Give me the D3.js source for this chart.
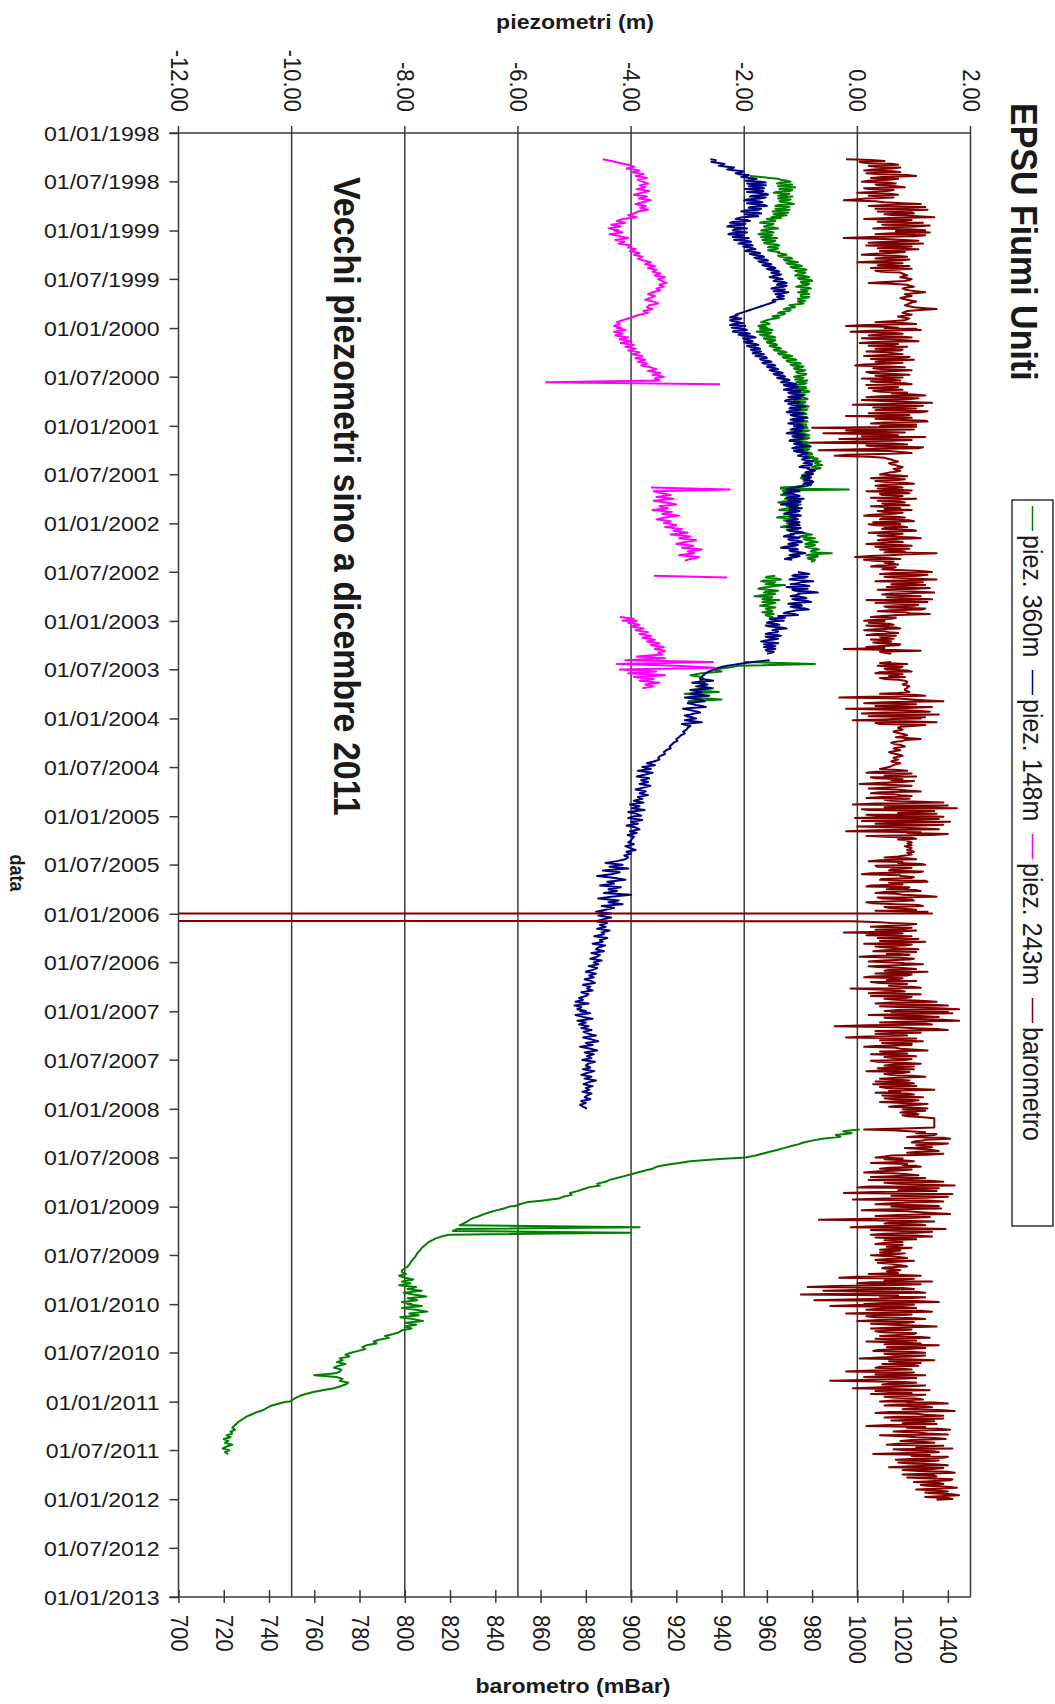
<!DOCTYPE html>
<html>
<head>
<meta charset="utf-8">
<title>EPSU Fiumi Uniti</title>
<script src="https://cdn.jsdelivr.net/npm/d3@7/dist/d3.min.js"></script>
<style>
  html, body { margin: 0; padding: 0; background: #fff; }
  svg { display: block; }
</style>
</head>
<body>
<svg id="chart" width="1055" height="1704"></svg>
<script>
// ---------------------------------------------------------------------------
// Axis ticks
// ---------------------------------------------------------------------------
const dateTickLabels = [
  "01/01/1998","01/07/1998","01/01/1999","01/07/1999","01/01/2000","01/07/2000",
  "01/01/2001","01/07/2001","01/01/2002","01/07/2002","01/01/2003","01/07/2003",
  "01/01/2004","01/07/2004","01/01/2005","01/07/2005","01/01/2006","01/07/2006",
  "01/01/2007","01/07/2007","01/01/2008","01/07/2008","01/01/2009","01/07/2009",
  "01/01/2010","01/07/2010","01/01/2011","01/07/2011","01/01/2012","01/07/2012",
  "01/01/2013"
];
const piezoTicks = [-12, -10, -8, -6, -4, -2, 0, 2];          // m
const baroTicks  = [700, 720, 740, 760, 780, 800, 820, 840, 860, 880,
                    900, 920, 940, 960, 980, 1000, 1020, 1040]; // mBar
const piezoDomain = [-12, 2];
const baroDomain  = [700, 1050];

// ---------------------------------------------------------------------------
// Readings. Each block: first reading date, weekly readings, and optionally
// the readings taken half a week after each weekly one. null = no reading.
// ---------------------------------------------------------------------------

// piez. 360m (m)
const p360_1998 = [-1.90,-1.55,-1.35,-1.18,-1.42,-1.25,-1.10,-1.38,-1.20,-1.48,-1.28,-1.15,-1.40,-1.22,-1.32,-1.12,-1.45,-1.30,-1.20,-1.50,-1.35,-1.25,-1.52,-1.60,-1.45,-1.72,-1.50,-1.65,-1.40];
const p360_1998m = [-1.70,-1.40,-1.25,-1.35,-1.15,-1.40,-1.28,-1.15,-1.42,-1.20,-1.40,-1.32,-1.18,-1.38,-1.18,-1.40,-1.20,-1.45,-1.38,-1.22,-1.48,-1.40,-1.35,-1.50,-1.65,-1.48,-1.60,-1.48,-1.62];
const p360_1999 = [-1.70,-1.48,-1.75,-1.55,-1.42,-1.68,-1.50,-1.62,-1.38,-1.58,-1.45,-1.52,-1.40,-1.25,-1.35,-1.15,-1.28,-1.05,-1.20,-0.98,-1.12,-0.90,-1.05,-0.95,-1.10,-0.85,-1.02,-0.80,-0.98,-0.88,-1.08,-0.82,-0.95,-1.05,-0.85,-1.00,-0.90,-1.02,-1.05,-0.95,-1.20,-1.10,-1.30,-1.22,-1.40,-1.32,-1.50,-1.45,-1.60,-1.70,-1.55,-1.75,-1.60];
const p360_1999m = [-1.55,-1.68,-1.50,-1.70,-1.60,-1.45,-1.65,-1.42,-1.55,-1.40,-1.58,-1.38,-1.30,-1.40,-1.18,-1.30,-1.12,-1.25,-1.02,-1.18,-0.95,-1.10,-0.92,-1.05,-0.90,-1.05,-0.82,-1.00,-0.85,-1.02,-0.88,-1.00,-0.88,-0.92,-1.00,-0.85,-1.05,-0.92,-1.00,-1.10,-1.15,-1.25,-1.18,-1.35,-1.28,-1.45,-1.38,-1.55,-1.65,-1.58,-1.68,-1.62,-1.72];
const p360_2000 = [-1.72,-1.50,-1.78,-1.55,-1.68,-1.45,-1.62,-1.48,-1.58,-1.42,-1.50,-1.35,-1.45,-1.25,-1.38,-1.15,-1.30,-1.08,-1.22,-1.00,-1.15,-0.98,-1.10,-0.96,-1.05,-0.92,-1.12,-0.98,-0.88,-1.08,-0.95,-1.15,-0.90,-1.02,-0.85,-1.10,-0.96,-1.05,-0.88,-1.12,-0.94,-1.00,-0.86,-1.08,-0.92,-1.04,-0.90,-1.10,-0.95,-0.98,-0.88,-1.06,-0.92];
const p360_2000m = [-1.58,-1.70,-1.52,-1.72,-1.50,-1.65,-1.45,-1.60,-1.45,-1.55,-1.38,-1.48,-1.30,-1.40,-1.22,-1.32,-1.12,-1.25,-1.05,-1.18,-0.95,-1.12,-0.92,-1.08,-0.90,-1.05,-0.95,-1.10,-0.95,-0.90,-1.10,-0.92,-1.08,-0.88,-1.05,-0.92,-1.08,-0.90,-1.05,-0.92,-1.08,-0.90,-1.04,-0.88,-1.10,-0.92,-1.06,-0.90,-1.05,-0.92,-1.08,-0.90,-1.00];
const p360_2001 = [-0.98,-0.88,-1.05,-0.92,-1.10,-0.85,-1.00,-0.90,-1.08,-0.86,-0.95,-0.82,-1.02,-0.88,-0.92,-0.80,-0.90,-0.84,-0.72,-0.65,-0.75,-0.62,-0.80,-0.68,-0.78,-0.90,-0.95,-0.85,-1.00,-0.88,-0.92,-0.82,-0.98,-1.35,-0.15,-1.30,-1.20,-1.35,-1.05,-1.28,-1.12,-1.40,-1.00,-1.25,-1.15,-1.38,-1.08,-1.30,-1.18,-1.42,-1.05,-1.22,-1.10];
const p360_2001m = [-0.90,-1.02,-0.85,-1.05,-0.90,-1.02,-0.85,-1.05,-0.92,-1.00,-0.85,-0.98,-0.85,-1.00,-0.82,-0.92,-0.78,-0.70,-0.80,-0.70,-0.68,-0.75,-0.65,-0.82,-0.85,-0.80,-0.98,-0.90,-0.85,-0.95,-0.80,-0.95,-1.10,-1.35,-1.32,-1.15,-1.30,-1.10,-1.25,-1.05,-1.32,-1.15,-1.20,-1.05,-1.30,-1.12,-1.25,-1.05,-1.30,-1.15,-1.30,-1.05,-1.20];
const p360_2002 = [-1.25,-1.10,-1.35,-1.05,-1.18,-0.95,-0.80,-1.02,-0.75,-0.88,-0.70,-0.92,-0.78,-0.85,-0.68,-0.82,-0.45,-0.90,-0.72,-0.86,-0.76,null,null,null,null,null,null,null,-1.45,-1.62,-1.35,-1.70,-1.50,-1.28,-1.58,-1.75,-1.40,-1.65,-1.48,-1.82,-1.55,-1.38,-1.68,-1.52,-1.72,-1.45,-1.60,-1.50,-1.55,-1.62,-1.50,null,null];
const p360_2002m = [-1.15,-1.30,-1.12,-1.25,-1.05,-0.88,-0.95,-0.85,-0.95,-0.78,-0.85,-0.75,-0.92,-0.72,-0.80,-0.72,-0.80,-0.70,-0.88,-0.75,-0.82,null,null,null,null,null,null,null,-1.60,-1.42,-1.65,-1.45,-1.62,-1.45,-1.70,-1.55,-1.60,-1.45,-1.72,-1.50,-1.68,-1.55,-1.45,-1.62,-1.55,-1.62,-1.52,-1.68,-1.48,-1.58,-1.55,null,null];
const p360_2003 = [-2.00,-0.75,-2.10,-2.30,-2.55,-2.40,-2.75,-2.95,-2.75,-2.72,-2.78,-2.70,-2.74,-2.80,-2.55,-2.95,-2.45,-3.05,-2.70,-2.90,-2.40,-3.00];
const p360_2008 = [0.04,-0.25,-0.10,-0.38,-0.30,-0.62,-0.80,-0.95,-1.05,-1.18,-1.30,-1.42,-1.55,-1.68,-1.80,-1.98,-2.50,-2.95,-3.15,-3.40,-3.55,-3.62,-3.75,-3.88,-4.00,-4.12,-4.25,-4.38,-4.45,-4.60,-4.55,-4.75,-4.85,-4.95,-5.08,-5.05,-5.20,-5.28,-5.55,-5.85,-5.97,-6.05];
const p360_2009 = [-6.15,-6.25,-6.38,-6.50,-6.60,-6.68,-6.78,-6.85,-6.90,-6.96,-7.03,-3.85,-7.08,-7.15,-4.00,-7.22,-7.35,-7.45,-7.52,-7.58,-7.62,-7.66,-7.70,-7.72,-7.75,-7.78,-7.80,-7.82,-7.85,-7.88,-7.90,-7.92,-7.95,-8.00,-8.05,-8.05,-7.98,-8.10,-8.00,-7.85,-8.05,-7.90,-8.10,-7.80,-7.95,-7.70,-8.02,-7.85,-7.62,-7.95,-7.78,-8.05,-7.88];
const p360_2010 = [-7.95,-7.70,-8.05,-7.80,-7.60,-7.92,-7.75,-8.08,-7.85,-7.68,-7.98,-7.80,-8.00,-7.88,-8.05,-8.10,-8.20,-8.35,-8.28,-8.45,-8.55,-8.50,-8.68,-8.75,-8.70,-8.82,-8.95,-9.05,-8.98,-9.15,-9.10,-9.20,-9.05,-9.18,-9.25,-9.12,-9.15,-9.22,-9.60,-9.20,-9.10,-9.15,-9.00,-9.05,-9.15,-9.25,-9.45,-9.62,-9.75,-9.85,-9.92,-9.98,-10.03];
const p360_2011 = [-10.10,-10.22,-10.35,-10.42,-10.47,-10.55,-10.65,-10.72,-10.80,-10.85,-10.90,-10.95,-10.98,-11.02,-11.05,-11.00,-11.08,-11.05,-11.15,-11.08,-11.20,-11.12,-11.18,-11.05,-11.15,-11.22,-11.10,-11.18,-11.12];

// piez. 148m (m)
const p148_1998 = [-2.60,-2.52,-2.45,-2.38,-2.30,-2.22,-2.15,-2.05,-2.10,-1.95,-1.90,-1.85,-1.70,-1.95,-1.62,-1.80,-1.98,-1.66,-1.78,-1.58,-1.90,-1.72,-2.00,-1.68,-1.84,-1.60,-1.92,-1.75,-2.05,-1.70,-1.88,-2.02,-2.15,-1.90,-2.25,-2.00,-2.30,-1.95];
const p148_1998m = [-2.50,-2.58,-2.35,-2.45,-2.18,-2.30,-2.02,-2.15,-1.92,-2.05,-1.78,-1.98,-1.62,-1.85,-1.92,-1.65,-1.80,-1.95,-1.62,-1.85,-1.62,-1.95,-1.75,-1.95,-1.65,-1.88,-1.70,-2.00,-1.78,-1.98,-1.75,-2.10,-1.95,-2.20,-1.98,-2.25,-2.05,-2.18];
const p148_1999 = [-2.20,-1.95,-2.28,-2.05,-1.92,-2.18,-1.88,-2.10,-1.85,-1.95,-1.80,-1.98,-1.72,-1.85,-1.65,-1.78,-1.58,-1.70,-1.52,-1.62,-1.45,-1.55,-1.38,-1.48,-1.40,-1.55,-1.32,-1.48,-1.25,-1.42,-1.30,-1.52,-1.35,-1.22,-1.45,-1.30,-1.38,-1.48,-1.45,-1.55,-1.65,-1.75,-1.85,-1.95,-2.05,-2.15,-2.20,-2.05,-2.25,-2.10,-2.18,-1.98,-2.22];
const p148_1999m = [-2.05,-2.22,-2.00,-2.20,-2.10,-1.95,-2.05,-1.90,-2.02,-1.85,-1.95,-1.82,-1.90,-1.70,-1.82,-1.62,-1.75,-1.60,-1.68,-1.50,-1.60,-1.42,-1.52,-1.35,-1.50,-1.38,-1.45,-1.30,-1.40,-1.25,-1.45,-1.28,-1.48,-1.32,-1.38,-1.42,-1.30,-1.50,-1.50,-1.60,-1.70,-1.80,-1.90,-2.00,-2.10,-2.12,-2.25,-2.08,-2.20,-2.02,-2.25,-2.10,-2.05];
const p148_2000 = [-2.15,-1.95,-2.20,-1.90,-2.05,-1.80,-2.00,-1.85,-1.95,-1.75,-1.90,-1.72,-1.85,-1.78,-1.65,-1.80,-1.60,-1.70,-1.52,-1.65,-1.45,-1.58,-1.40,-1.50,-1.32,-1.45,-1.28,-1.38,-1.20,-1.35,-1.08,-1.25,-1.12,-1.30,-1.02,-1.18,-0.95,-1.22,-1.10,-1.28,-1.05,-1.15,-0.92,-1.20,-1.08,-1.25,-1.00,-1.12,-0.88,-1.18,-1.05,-1.22,-0.98];
const p148_2000m = [-2.00,-2.18,-1.98,-2.10,-1.85,-2.02,-1.90,-2.00,-1.80,-1.95,-1.78,-1.88,-1.70,-1.85,-1.75,-1.62,-1.72,-1.58,-1.68,-1.50,-1.60,-1.45,-1.55,-1.38,-1.48,-1.30,-1.42,-1.22,-1.32,-1.15,-1.30,-1.05,-1.25,-1.00,-1.22,-1.05,-1.15,-1.00,-1.25,-1.02,-1.22,-1.02,-1.18,-1.00,-1.20,-0.95,-1.18,-1.02,-1.12,-0.95,-1.15,-1.02,-1.12];
const p148_2001 = [-1.10,-0.95,-1.18,-1.02,-1.25,-0.92,-1.12,-1.00,-1.20,-0.98,-1.08,-0.85,-1.15,-0.95,-1.05,-0.92,-1.05,-0.85,-0.98,-0.78,-0.95,-0.82,-1.02,-0.88,-0.75,-0.92,-0.80,-0.98,-0.85,-0.90,-0.78,-0.95,-0.88,-1.10,-1.25,-1.02,-1.30,-1.08,-1.18,-0.95,-1.22,-1.05,-1.35,-1.12,-0.98,-1.20,-1.08,-1.28,-1.00,-1.15,-1.05,-1.25,-1.10];
const p148_2001m = [-1.00,-1.12,-0.98,-1.20,-1.00,-1.15,-0.95,-1.18,-1.02,-1.12,-0.92,-1.10,-1.00,-1.12,-0.88,-1.00,-0.90,-0.95,-0.85,-0.92,-0.80,-0.98,-0.85,-0.80,-0.88,-0.78,-0.92,-0.82,-0.95,-0.80,-0.90,-0.82,-1.00,-1.18,-1.05,-1.22,-1.12,-1.02,-1.25,-1.10,-1.00,-1.28,-1.05,-1.20,-1.10,-1.02,-1.22,-1.05,-1.20,-1.08,-1.18,-1.02,-1.20];
const p148_2002 = [-1.15,-1.02,-1.25,-1.08,-1.20,-0.95,-1.12,-1.30,-1.05,-1.18,-0.98,-1.22,-1.10,-1.35,-1.05,-1.15,-0.92,-1.20,-1.08,-1.28,null,null,null,null,null,null,-1.05,-0.85,-1.15,-0.92,-1.20,-0.78,-1.05,-0.95,-1.25,-0.88,-1.10,-0.70,-1.02,-1.18,-0.90,-1.08,-0.82,-1.22,-0.98,-1.12,-0.86,-1.15,-1.30,-1.05,-1.35,-1.55,-1.30];
const p148_2002m = [-1.05,-1.20,-1.00,-1.22,-1.05,-1.18,-1.25,-1.02,-1.22,-1.00,-1.15,-1.05,-1.28,-1.08,-1.20,-0.98,-1.12,-1.02,-1.22,-1.15,null,null,null,null,null,null,-0.95,-1.10,-0.88,-1.12,-0.95,-1.00,-1.18,-0.85,-1.08,-1.15,-0.80,-1.05,-1.12,-0.95,-1.15,-0.88,-1.10,-1.00,-1.18,-0.92,-1.08,-1.25,-1.12,-1.40,-1.28,-1.45,-1.48];
const p148_2003 = [-1.45,-1.60,-1.38,-1.55,-1.25,-1.50,-1.42,-1.62,-1.35,-1.55,-1.48,-1.70,-1.40,-1.58,-1.65,-1.45,-1.60,-1.52,null,null,null,-1.55,-1.85,-2.10,-2.30,-2.45,-2.55,-2.62,-2.68,-2.72,-2.75,-2.78,-2.55,-2.92,-2.65,-2.85,-2.58,-2.95,-2.75,-2.95,-2.62,-3.05,-2.80,-2.70,-3.00,-2.85,-2.68,-3.08,-2.90,-2.78,-2.95,-3.02,-2.88];
const p148_2003m = [-1.55,-1.45,-1.62,-1.35,-1.45,-1.40,-1.55,-1.42,-1.62,-1.40,-1.62,-1.50,-1.65,-1.45,-1.55,-1.62,-1.48,-1.60,null,null,null,-1.70,-1.98,-2.20,-2.38,-2.50,-2.58,-2.65,-2.70,-2.74,-2.76,-2.65,-2.80,-2.75,-2.75,-2.70,-2.80,-2.85,-2.85,-2.78,-2.88,-2.92,-2.72,-2.88,-2.92,-2.75,-2.95,-2.98,-2.82,-2.88,-3.05,-2.92,-2.95];
const p148_2004 = [-2.85,-3.05,-2.75,-3.10,-2.95,-3.00,-3.02,-3.08,-3.05,-3.12,-3.15,-3.20,-3.18,-3.25,-3.28,-3.32,-3.30,-3.38,-3.42,-3.40,-3.48,-3.52,-3.50,-3.60,-3.72,-3.58,-3.80,-3.65,-3.88,-3.62,-3.75,-3.90,-3.68,-3.82,-3.70,-3.85,-3.66,-3.78,-3.92,-3.74,-3.85,-3.70,-3.88,-3.80,-3.95,-3.78,-4.02,-3.85,-3.98,-3.76,-4.05,-3.90,-3.82];
const p148_2005 = [-3.95,-4.05,-3.80,-4.00,-3.88,-4.08,-3.92,-3.85,-4.02,-3.90,-4.06,-3.95,-3.98,-4.00,-4.05,-3.95,-4.10,-4.02,-3.92,-4.08,-4.00,-4.12,-4.05,-4.10,-4.25,-4.45,-4.15,-4.38,-4.05,-4.50,-4.20,-4.35,-4.60,-4.28,-4.10,-4.42,-4.30,-4.55,-4.18,-4.40,-4.25,-4.48,-4.00,-4.35,-4.58,-4.22,-4.40,-4.15,-4.52,-4.30,-4.45,-4.62,-4.35];
const p148_2006 = [-4.40,-4.58,-4.35,-4.50,-4.62,-4.42,-4.55,-4.45,-4.60,-4.38,-4.52,-4.48,-4.65,-4.42,-4.55,-4.50,-4.68,-4.46,-4.58,-4.62,-4.48,-4.70,-4.55,-4.60,-4.72,-4.52,-4.66,-4.58,-4.75,-4.60,-4.68,-4.80,-4.62,-4.74,-4.66,-4.82,-4.70,-4.64,-4.85,-4.72,-4.78,-4.68,-4.88,-4.75,-4.80,-4.92,-4.85,-4.98,-4.75,-5.00,-4.88,-4.95,-4.80];
const p148_2007 = [-4.90,-4.72,-4.98,-4.85,-4.68,-4.95,-4.80,-4.92,-4.75,-4.88,-4.70,-4.84,-4.75,-4.62,-4.85,-4.70,-4.58,-4.80,-4.68,-4.90,-4.72,-4.60,-4.82,-4.66,-4.78,-4.70,-4.86,-4.64,-4.76,-4.80,-4.72,-4.85,-4.65,-4.78,-4.88,-4.70,-4.82,-4.62,-4.76,-4.84,-4.68,-4.80,-4.74,-4.86,-4.70,-4.78,-4.82,-4.72,-4.88,-4.80,-4.90,-4.85,-4.78];

// piez. 243m (m)
const p243_1998 = [-4.50,-4.35,-4.20,-4.05,-3.95,-4.08,-3.85,-3.98,-3.78,-3.92,-3.72,-3.88,-3.80,-3.70,-3.85,-3.75,-3.90,-3.68,-3.82,-3.95,-3.72,-3.86,-3.65,-3.80,-3.92,-3.74,-3.84,-3.70,-3.88,-3.95,-4.05,-3.90,-4.15,-4.25,-4.10,-4.35,-4.18,-4.40,-4.22];
const p243_1999 = [-4.30,-4.15,-4.38,-4.20,-4.05,-4.28,-4.12,-4.22,-4.00,-4.05,-3.92,-4.02,-3.85,-3.95,-3.80,-3.88,-3.78,-3.65,-3.75,-3.58,-3.70,-3.55,-3.62,-3.48,-3.58,-3.40,-3.52,-3.45,-3.38,-3.50,-3.42,-3.55,-3.48,-3.62,-3.70,-3.58,-3.66,-3.75,-3.60,-3.52,-3.68,-3.72,-3.62,-3.78,-3.70,-3.85,-3.95,-4.05,-4.15,-4.25,-4.20,-4.30,-4.18];
const p243_2000 = [-4.25,-4.10,-4.30,-4.15,-4.28,-4.05,-4.20,-4.00,-4.18,-3.95,-4.10,-3.92,-4.05,-3.85,-3.98,-3.80,-3.92,-3.75,-3.88,-3.72,-3.82,-3.65,-3.55,-3.70,-3.48,-3.62,-3.42,-3.58,-3.50,-5.50,-2.43];
const p243_2001 = [-3.65,-2.25,-3.60,-3.45,-3.30,-3.55,-3.25,-3.60,-3.38,-3.20,-3.50,-3.35,-3.62,-3.28,-3.45,-3.15,-3.40,-3.55,-3.30,-3.42];
const p243_2002 = [-3.35,-3.20,-3.40,-3.10,-3.25,-3.00,-3.30,-2.95,-3.15,-2.85,-3.05,-3.20,-2.90,-3.10,-2.75,-3.00,-2.88,-3.15,-2.80,-2.95,-3.05,null,null,null,null,null,null,null,-3.60,-2.30];
const p243_2002b = [-4.20,-3.95,-4.15];
const p243_2003 = [-3.90,-4.05,-3.85,-4.00,-3.78,-3.92,-3.70,-3.85,-3.65,-3.80,-3.58,-3.72,-3.50,-3.65,-3.42,-3.58,-3.40,-3.52,-3.45,-3.90,-3.40,-4.10,-2.55,-4.25,-3.20,-2.50,-4.20,-3.55,-4.05,-3.40,-3.95,-3.60,-3.85,-3.50,-3.75,-3.60,-3.80];

// barometro (mBar); the zeros in January 2006 are a logger dropout
const baro1998 = [995,1012,1004,1018,1008,1015,1003,1019,1010,1026,1006,1014,1002,1017,1009,1021,1005,1013,1000,1018,1011,1004,994,1012,1028,1005,1022,1031,1009,1025,1016,1034,1003,1020,1029,1011,1026,1007,1030];
const baro1998m = [1006,1001,1015,1005,1019,1007,1016,1004,1022,1011,1018,1005,1013,1008,1017,1003,1016,1007,1014,1005,1016,999,1008,1020,1013,1030,1008,1019,1024,1012,1027,1014,1024,1009,1018,1032,1013,1023,1017];
const baro1999 = [1018,1032,1008,1025,994,1021,1013,1029,1004,1019,1027,1010,1015,1002,1022,1008,1019,1000,1014,1023,1006,1017,1011,1020,1022,1019,1024,1021,1005,1022,1025,1020,1023,1030,1021,1024,1019,1022,1026,1023,1021,1025,1035,1022,1020,1024,1018,1023,1021,1008,1026,995,1018];
const baro1999m = [1024,1015,1030,1006,1012,1027,1005,1018,1024,1009,1016,1021,1006,1017,1012,1023,1007,1020,1009,1016,1024,1008,1019,1021,1020,1022,1023,1012,1015,1023,1022,1021,1026,1025,1022,1021,1020,1024,1024,1022,1023,1030,1028,1021,1022,1021,1020,1022,1015,1020,1004,1012,1026];
const baro2000 = [1012,1028,997,1020,1005,1024,1010,1027,1001,1016,1022,1008,1019,1012,1020,1003,1018,1025,1008,1015,999,1021,1011,1017,1006,1023,1013,1002,1019,1009,1024,1014,1005,1020,1010,1015,1030,1004,1022,1011,1033,998,1019,1026,1008,1028,1013,995,1024,1017,1031,1006,1021];
const baro2000m = [1022,1006,1016,1010,1019,1002,1021,1008,1018,1005,1013,1020,1004,1016,1009,1023,1006,1011,1020,1003,1014,1007,1024,1004,1016,1008,1020,1015,1006,1021,1004,1018,1012,1007,1022,1025,1010,1027,1002,1024,1016,1029,1007,1013,1031,1005,1023,1019,1008,1030,1012,1026,1010];
const baro2001 = [1012,980,1025,1003,985,1018,1030,992,1015,979,1022,1008,1027,983,1019,1010,990,1012,1015,1018,1014,1017,1020,1016,1019,1014,1010,1022,1006,1018,1013,1025,1008,1020,1015,1004,1023,1011,1017,1026,1009,1021,1014,1006,1019,1024,1012,1016,1003,1021,1010,1025,1013];
const baro2001m = [1026,1008,995,1021,1010,1002,1012,1024,998,1016,1004,1029,1000,1014,1024,996,1005,1013,1016,1017,1015,1018,1019,1017,1017,1012,1018,1013,1021,1008,1022,1012,1017,1009,1024,1016,1010,1020,1006,1013,1019,1011,1023,1016,1012,1009,1020,1006,1015,1011,1023,1007,1019];
const baro2002 = [1015,1008,1022,1011,1026,1005,1018,1013,1028,1009,1020,1004,1024,1016,1010,1021,1035,1014,999,1019,1007,1012,1018,1006,1015,1020,1033,1010,1027,1016,1035,1008,1024,1030,1013,1026,1019,1034,1011,1028,1021,1004,1031,1017,1025,1014,1029,1009,1023,1018,1006,1015,1003];
const baro2002m = [1005,1019,1012,1024,1014,1020,1009,1025,1012,1017,1011,1019,1008,1023,1017,1012,1022,1006,1013,1003,1016,1014,1009,1017,1011,1028,1016,1031,1012,1024,1018,1029,1015,1020,1032,1009,1027,1015,1022,1013,1033,1016,1008,1027,1012,1030,1015,1021,1032,1011,1017,1008,1012];
const baro2003 = [1012,1005,1016,1009,1019,1003,1014,1008,1017,1011,1006,1015,1010,1018,1004,994,1028,1012,null,null,null,null,1015,1022,1009,1019,1013,1024,1008,1017,1021,1012,1021,1022,1020,1023,1022,1021,1023,1010,1030,992,1024,1038,1003,1018,1033,995,1026,1012,1036,1005,1021];
const baro2003m = [1007,1014,1004,1017,1008,1012,1018,1004,1010,1016,1013,1007,1019,1009,1012,1016,1010,1015,null,null,null,null,1010,1016,1020,1012,1022,1010,1020,1014,1010,1018,1022,1021,1022,1022,1021,1022,1018,1025,1005,1018,1031,1012,1026,1008,1022,1014,1032,1002,1020,1030,1016];
const baro2004 = [1028,998,1035,1010,1024,1018,1020,1016,1019,1022,1017,1028,1020,1015,1018,1021,1016,1019,1014,1017,1020,1016,1018,1015,1019,1016,1014,1010,1022,1004,1018,1026,1008,1015,1020,1001,1024,1012,1017,1028,1006,1019,1011,1023,1015,1038,998,1030,1044,1005,1026,1035,1010];
const baro2004m = [1012,1022,1008,1030,1019,1019,1018,1017,1021,1020,1022,1021,1017,1016,1020,1018,1017,1016,1015,1019,1018,1017,1016,1017,1017,1015,1012,1018,1008,1024,1012,1006,1020,1025,1009,1013,1018,1005,1022,1010,1016,1024,1004,1012,1028,1008,1040,1012,1002,1034,1018,1004,1038];
const baro2005 = [1032,999,1024,1041,1008,1028,1016,1036,995,1022,1033,1012,1026,1022,1024,1023,1021,1024,1022,1025,1023,1021,1012,1026,1005,1018,1030,1009,1021,1014,1027,1002,1019,1024,1010,1031,1016,1006,1023,1013,1028,1008,1020,1035,1011,1025,1004,1017,1029,1014,1026,1031,1033];
const baro2005m = [1010,1036,1002,1018,1038,1000,1030,1008,1028,1040,1004,1024,1018,1023,1022,1024,1022,1023,1024,1022,1024,1018,1022,1010,1020,1028,1008,1024,1015,1029,1006,1019,1025,1011,1030,1014,1020,1004,1022,1026,1012,1017,1030,1009,1024,1016,1007,1027,1012,1021,1008,1024,0];
const baro2006 = [0,0,0,0,998,1015,1022,1006,1019,1026,994,1012,1024,1009,1017,1030,1003,1021,1013,1027,1007,1018,1023,1001,1025,1011,1016,1029,1005,1020,1014,1031,1008,1022,1003,1018,1026,1010,1015,1024,997,1019,1012,1028,1006,1021,1017,1035,1008,1040,1020,1045,1012];
const baro2006m = [0,0,0,0,1010,1026,1012,1024,1008,1018,1020,1004,1016,1027,1010,1020,1024,1008,1018,1012,1026,1013,1008,1019,1023,1005,1021,1017,1009,1026,1012,1018,1024,1006,1020,1013,1006,1022,1014,1028,1009,1021,1005,1016,1024,1012,1028,1015,1030,1010,1036,1018,1040];
const baro2007 = [1030,1042,1005,1036,1018,1045,1010,1033,990,1025,1040,1015,1008,1022,995,1017,1029,1011,1024,1003,1019,1031,1014,1006,1026,1016,1021,1009,1028,1012,1018,1025,1004,1020,1015,1030,1010,1023,1017,1007,1026,1013,1034,1019,1022,1011,1029,1016,1024,1020,1027,1014,1031];
const baro2007m = [1015,1020,1028,1012,1038,1022,1030,1004,1018,1035,1008,1028,1020,1004,1026,1010,1018,1024,1008,1017,1026,1010,1022,1019,1012,1024,1006,1020,1016,1025,1009,1014,1023,1012,1024,1018,1016,1008,1025,1021,1010,1026,1014,1008,1025,1020,1012,1027,1010,1031,1018,1024,1020];
const baro2008 = [1024,1030,1019,1027,1022,1034,1034,1034,1034,1034,1034,1003,1023,1026,1034,1022,1041,1029,1024,1036,1030,1021,1033,1027,1038,1015,1008,1012,1025,1006,1020,1028,1010,1018,1003,1022,1015,1030,1005,1038,1018,1043,1000,1027,1035,994,1022,1040,1012,1031,1025,1008,1036];
const baro2008m = [1028,1022,1026,1020,1029,1034,1034,1034,1034,1034,1020,1015,1030,1035,1028,1038,1030,1025,1040,1026,1033,1028,1036,1022,1031,1012,1020,1020,1015,1022,1026,1014,1024,1008,1016,1027,1006,1022,1032,1012,1028,1005,1036,1018,1008,1042,1015,1030,998,1038,1015,1028,1020];
const baro2009 = [1015,1037,1002,1028,1041,1008,1025,983,1034,1012,1030,997,1039,1020,1026,1006,1033,1018,1012,1020,1008,1017,1024,1010,1015,1021,1006,1018,1013,1025,1009,1016,1022,1011,1019,1014,1005,1028,992,1020,1033,1000,1015,978,1025,985,1030,975,1010,1022,981,1036,1003];
const baro2009m = [1030,1010,1022,1035,1018,1032,1005,1020,1015,1028,1008,1025,1006,1033,1012,1025,1008,1026,1018,1012,1020,1013,1016,1019,1010,1017,1014,1022,1008,1018,1015,1020,1012,1016,1013,1018,1020,1000,1025,1012,1006,1028,990,1020,1003,1026,1002,1018,1030,1000,1026,1012,1025];
const baro2010 = [1012,988,1026,1004,1033,995,1018,1008,1030,1000,1022,1015,1035,1006,1020,1011,1025,1010,1032,1018,1004,1028,1036,1013,1022,1007,1030,1016,1024,1001,1034,1019,1011,1027,1008,1024,995,1018,1030,1003,1015,988,1026,1011,1020,998,1032,1014,1006,1023,1017,1029,1010];
const baro2010m = [1000,1020,1010,1028,1012,1024,1004,1026,1010,1025,1006,1028,1018,1024,1008,1026,1018,1028,1008,1026,1020,1012,1020,1030,1009,1024,1012,1030,1010,1022,1014,1028,1024,1010,1020,1006,1025,1008,1012,1026,1002,1018,1014,1030,1008,1020,1008,1024,1030,1012,1026,1016,1022];
const baro2011 = [1025,1040,1012,1033,1020,1043,1008,1030,1018,1038,1015,1027,1035,1004,1022,1041,1016,1031,1010,1026,1039,1019,1034,1013,1028,1042,1021,1036,1007,1024,1038,1017,1030,1023,1040,1014,1033,1027,1043,1020,1035,1029,1041,1025,1038,1031,1044,1026,1040,1033,1045,1030,1042];
const baro2011m = [1034,1018,1030,1024,1036,1014,1026,1038,1012,1028,1034,1020,1014,1030,1036,1022,1026,1040,1020,1036,1024,1030,1018,1038,1026,1016,1034,1022,1032,1040,1026,1036,1018,1034,1024,1038,1020,1040,1030,1034,1022,1042,1032,1036,1028,1040,1034,1036,1030,1042,1036,1040,1035];

// Block start dates
const p360Blocks = [
  ["1998-06-11", p360_1998, p360_1998m], ["1999-01-01", p360_1999, p360_1999m],
  ["2000-01-01", p360_2000, p360_2000m], ["2001-01-01", p360_2001, p360_2001m],
  ["2002-01-01", p360_2002, p360_2002m], ["2003-06-04", p360_2003],
  ["2008-03-18", p360_2008], ["2009-01-01", p360_2009], ["2010-01-01", p360_2010],
  ["2011-01-01", p360_2011]
];
const p148Blocks = [
  ["1998-04-09", p148_1998, p148_1998m], ["1999-01-01", p148_1999, p148_1999m],
  ["2000-01-01", p148_2000, p148_2000m], ["2001-01-01", p148_2001, p148_2001m],
  ["2002-01-01", p148_2002, p148_2002m], ["2003-01-01", p148_2003, p148_2003m],
  ["2004-01-01", p148_2004], ["2005-01-01", p148_2005], ["2006-01-01", p148_2006],
  ["2007-01-01", p148_2007]
];
const p243Blocks = [
  ["1998-04-09", p243_1998], ["1999-01-01", p243_1999], ["2000-01-01", p243_2000],
  ["2001-08-20", p243_2001], ["2002-01-01", p243_2002], ["2002-12-17", p243_2002b],
  ["2003-01-01", p243_2003]
];
const baroBlocks = [
  ["1998-04-09", baro1998, baro1998m], ["1999-01-01", baro1999, baro1999m],
  ["2000-01-01", baro2000, baro2000m], ["2001-01-01", baro2001, baro2001m],
  ["2002-01-01", baro2002, baro2002m], ["2003-01-01", baro2003, baro2003m],
  ["2004-01-01", baro2004, baro2004m], ["2005-01-01", baro2005, baro2005m],
  ["2006-01-01", baro2006, baro2006m], ["2007-01-01", baro2007, baro2007m],
  ["2008-01-01", baro2008, baro2008m], ["2009-01-01", baro2009, baro2009m],
  ["2010-01-01", baro2010, baro2010m], ["2011-01-01", baro2011, baro2011m]
];

const seriesNames  = ["piez. 360m", "piez. 148m", "piez. 243m", "barometro"];
const seriesColors = ["#008000", "#000080", "#ff00ff", "#800000"];

// ---------------------------------------------------------------------------
// Drawing
// ---------------------------------------------------------------------------
const FONT = "'Liberation Sans', Arial, Helvetica, sans-serif";
const SX = 1.1;               // lettering is drawn slightly wide
const INK = "#1a1a1a";
const GRID = "#3a3a3a";

const svg = d3.select("#chart");
const plot = { left: 178.5, right: 970.5, top: 133, bottom: 1597 };

const parseDay = d3.utcParse("%Y-%m-%d");
const parseTick = d3.utcParse("%d/%m/%Y");
const dateTicks = dateTickLabels.map(parseTick);

const y = d3.scaleUtc()
  .domain([dateTicks[0], dateTicks[dateTicks.length - 1]])
  .range([plot.top, plot.bottom]);
const xPiezo = d3.scaleLinear().domain(piezoDomain).range([plot.left, plot.right]);
const xBaro  = d3.scaleLinear().domain(baroDomain).range([plot.left, plot.right]);

const DAY = 864e5;
// Merge weekly and half-week readings in time order; break the line
// wherever readings stop for more than ten days.
function expand(blocks) {
  const raw = [];
  blocks.forEach(([start, weekly, half]) => {
    const t0 = parseDay(start).getTime();
    weekly.forEach((v, i) => raw.push({ t: t0 + i * 7 * DAY, v }));
    if (half) half.forEach((v, i) => raw.push({ t: t0 + (i * 7 + 3.5) * DAY, v }));
  });
  raw.sort((a, b) => a.t - b.t);
  const pts = [];
  raw.forEach((p, i) => {
    if (i > 0 && p.t - raw[i - 1].t > 10 * DAY) pts.push({ date: new Date(raw[i - 1].t + DAY), v: null });
    pts.push({ date: new Date(p.t), v: p.v });
  });
  return pts;
}

// text helpers
function hText(x, yy, str, size, weight, anchor) {
  return svg.append("text")
    .attr("transform", `translate(${x},${yy}) scale(${SX},1)`)
    .attr("text-anchor", anchor)
    .attr("font-family", FONT).attr("font-size", size).attr("font-weight", weight)
    .attr("fill", INK).text(str);
}
function vText(x, yy, str, size, weight, anchor) {
  return svg.append("text")
    .attr("transform", `translate(${x},${yy}) rotate(90) scale(1,${SX})`)
    .attr("text-anchor", anchor).attr("dy", "0.35em")
    .attr("font-family", FONT).attr("font-size", size).attr("font-weight", weight)
    .attr("fill", INK).text(str);
}

// gridlines at the piezometer majors (outer ones are the frame)
svg.append("g").selectAll("line").data(piezoTicks).join("line")
  .attr("x1", d => xPiezo(d)).attr("x2", d => xPiezo(d))
  .attr("y1", plot.top - 7).attr("y2", plot.bottom)
  .attr("stroke", GRID).attr("stroke-width", 1.5);
svg.append("line").attr("x1", plot.left - 9).attr("x2", plot.right)
  .attr("y1", plot.top).attr("y2", plot.top)
  .attr("stroke", GRID).attr("stroke-width", 1.5);
svg.append("line").attr("x1", plot.left - 9).attr("x2", plot.right)
  .attr("y1", plot.bottom).attr("y2", plot.bottom)
  .attr("stroke", GRID).attr("stroke-width", 1.5);

// date axis (left)
const gDate = svg.append("g").attr("transform", `translate(${plot.left},0)`)
  .call(d3.axisLeft(y).tickValues(dateTicks).tickFormat(d3.utcFormat("%d/%m/%Y"))
    .tickSize(9).tickPadding(10));
gDate.select(".domain").remove();
gDate.attr("font-family", FONT).attr("font-size", 21);
gDate.selectAll(".tick line").attr("stroke", GRID).attr("stroke-width", 1.5);
gDate.selectAll(".tick text").attr("fill", INK)
  .attr("x", null).attr("dy", "0.35em")
  .attr("transform", `translate(-19,0) scale(${SX},1)`);

// piezometer axis (top)
const gPiezo = svg.append("g").attr("transform", `translate(0,${plot.top})`)
  .call(d3.axisTop(xPiezo).tickValues(piezoTicks).tickFormat(d => d.toFixed(2)).tickSize(0));
gPiezo.select(".domain").remove();
gPiezo.attr("font-family", FONT).attr("font-size", 22);
gPiezo.selectAll(".tick text").attr("fill", INK)
  .attr("y", 0).attr("dy", "0.35em").attr("text-anchor", "end")
  .attr("transform", `translate(0,-21) rotate(90) scale(1,${SX})`);

// barometer axis (bottom)
const gBaro = svg.append("g").attr("transform", `translate(0,${plot.bottom})`)
  .call(d3.axisBottom(xBaro).tickValues(baroTicks).tickFormat(d3.format("d")).tickSize(6));
gBaro.select(".domain").remove();
gBaro.attr("font-family", FONT).attr("font-size", 22);
gBaro.selectAll(".tick line").attr("y1", -7).attr("stroke", GRID).attr("stroke-width", 1.5);
gBaro.selectAll(".tick text").attr("fill", INK)
  .attr("y", 0).attr("dy", "0.35em").attr("text-anchor", "start")
  .attr("transform", `translate(0,18) rotate(90) scale(1,${SX})`);

// series
svg.append("clipPath").attr("id", "plotClip").append("rect")
  .attr("x", plot.left).attr("y", plot.top)
  .attr("width", plot.right - plot.left).attr("height", plot.bottom - plot.top);

const series = [
  { blocks: p360Blocks, x: xPiezo },
  { blocks: p148Blocks, x: xPiezo },
  { blocks: p243Blocks, x: xPiezo },
  { blocks: baroBlocks, x: xBaro }
];
const gSeries = svg.append("g").attr("clip-path", "url(#plotClip)");
series.forEach((s, i) => {
  const line = d3.line().defined(d => d.v !== null)
    .x(d => s.x(d.v)).y(d => y(d.date));
  gSeries.append("path").datum(expand(s.blocks))
    .attr("d", line).attr("fill", "none")
    .attr("stroke", seriesColors[i]).attr("stroke-width", 2)
    .attr("stroke-linejoin", "round");
});

// titles
hText(575, 29, "piezometri (m)", 21, "bold", "middle");
hText(573, 1693, "barometro (mBar)", 21, "bold", "middle");
vText(17, 873, "data", 18, "bold", "middle");
vText(1024, 103, "EPSU Fiumi Uniti", 34, "bold", "start");
vText(347, 177, "Vecchi piezometri sino a dicembre 2011", 34, "bold", "start");

// legend (runs down the right side)
const leg = svg.append("g").attr("transform", "translate(1053,500) rotate(90)");
leg.append("rect").attr("x", 0).attr("y", 0).attr("width", 726).attr("height", 41)
  .attr("fill", "#fff").attr("stroke", "#000").attr("stroke-width", 1.2);
const slot = 164;
seriesNames.forEach((name, i) => {
  const u = 6 + i * slot;
  leg.append("line").attr("x1", u).attr("x2", u + 25).attr("y1", 20.5).attr("y2", 20.5)
    .attr("stroke", seriesColors[i]).attr("stroke-width", 1.5);
  leg.append("text").attr("transform", `translate(${u + 29},20.5) scale(1,${SX})`)
    .attr("dy", "0.35em").attr("font-family", FONT).attr("font-size", 25)
    .attr("fill", INK).text(name);
});
</script>
</body>
</html>
